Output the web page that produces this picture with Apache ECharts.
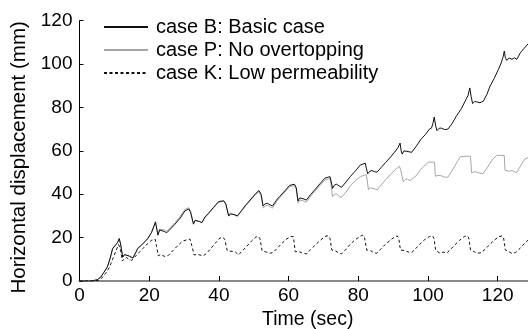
<!DOCTYPE html>
<html>
<head>
<meta charset="utf-8">
<script src="https://cdn.jsdelivr.net/npm/echarts@6/dist/echarts.min.js"></script>
<style>html,body{margin:0;padding:0;background:#fff}#c{width:528px;height:329px}</style>
</head>
<body>
<div id="c"></div>
<script>
// ---- data ----
const seriesNames = ['case B: Basic case', 'case P: No overtopping', 'case K: Low permeability'];
const xTicks = [0, 20, 40, 60, 80, 100, 120];
const yTicks = [0, 20, 40, 60, 80, 100, 120];

const caseB = [[0,0],[3,0],[4,0.2],[5.1,0.6],[6.1,1.8],[7,4],[8,6.5],[8.8,10.5],[9.5,15],[10.2,16.3],[10.9,17.7],[11.4,19.6],[11.8,17],[12.4,11],[12.9,12.2],[13.3,12.6],[14.3,11.5],[15.3,10.6],[16.1,13],[16.7,15],[17.8,16.6],[18.8,18.2],[19.6,19.6],[20.7,22.5],[21.8,27.3],[22.5,21.1],[23,23.5],[23.5,23.8],[24.4,22.8],[25,22.2],[26,23.8],[27.4,26.2],[28.9,29],[30.3,32.4],[31.4,33.2],[31.9,31.5],[32.7,26.2],[33.2,28],[33.7,28.1],[34.5,27.4],[35.1,26.9],[36,29.5],[37,31.2],[38.5,34],[39.9,36.6],[41.4,37],[42,35.5],[42.8,30],[43.3,31],[43.8,31.2],[44.6,30.5],[45.3,30],[46.5,32.5],[47.7,35],[49.2,37.8],[50.6,40.4],[51.5,41.7],[52.1,40],[52.7,34.6],[53.3,35.6],[54,35.8],[54.8,35],[55.4,34.6],[56.4,37],[57.4,38.9],[58.9,41.5],[60.3,44.1],[61.7,44.6],[62.2,43],[62.7,36.9],[63.2,38.3],[63.6,38.6],[64.4,37.8],[65.1,37.3],[66.3,39.8],[67.5,42],[69,44.8],[70.4,47.4],[71.9,48.1],[72.2,46],[72.6,42.7],[73.2,44.3],[73.8,44.6],[74.5,43.8],[75.2,43.2],[76.5,45.7],[77.7,48.1],[79.2,50.8],[80.6,53.5],[82,54.3],[82.3,52],[82.7,49.4],[83.3,50.6],[83.9,50.9],[84.7,50.4],[85.4,50.2],[86.6,52.4],[87.8,54.6],[89.3,57.2],[90.7,60],[91.4,61.5],[92,63.6],[92.3,60],[92.6,58.5],[93.1,60],[93.6,60.2],[94.5,59.6],[95.3,59.3],[96.7,62.3],[98,65.4],[99.3,67.6],[100.4,70],[101,70.5],[101.4,72.5],[101.8,75.6],[102.2,71.5],[102.6,69.3],[103.2,70.4],[103.8,70.5],[104.8,69.8],[105.7,70],[106.9,72.5],[108.1,75.9],[109.6,79.5],[111,84],[111.5,85.5],[112,89],[112.4,85],[112.8,81.8],[113.4,82.8],[113.9,82.9],[114.9,82.2],[115.9,82.9],[116.9,86],[117.8,89.8],[119,93.4],[120.2,97.5],[121,100.5],[121.5,103],[121.9,106],[122.2,103],[122.6,101.7],[123.3,102.8],[124.1,102.2],[124.8,102.9],[125.5,102.2],[126.5,105.2],[127.6,107.3],[128.7,109.3]];

const caseP = [[0,0],[3,0],[4,0.2],[5.1,0.6],[6.1,1.8],[7,4],[8,6.5],[8.8,10.5],[9.5,14.8],[10.2,16.2],[10.9,17.6],[11.4,19.3],[11.8,16.8],[12.4,11],[12.9,12.1],[13.3,12.5],[14.3,11.4],[15.3,10.5],[16.1,12.9],[16.7,14.9],[17.8,16.5],[18.8,18.1],[19.6,19.5],[20.7,22.4],[21.8,26.8],[22.5,21.8],[23,23.9],[23.5,24.3],[24.4,23.5],[25,22.9],[26,24.5],[27.4,27],[28.9,29.8],[30.3,33.1],[31.4,33.8],[31.9,32],[32.7,26.5],[33.2,27.9],[33.7,28],[34.5,27.3],[35.1,26.8],[36,29.3],[37,31],[38.5,33.8],[39.9,36.3],[41.4,36.7],[42,35.2],[42.8,29.9],[43.3,30.8],[43.8,31],[44.6,30.3],[45.3,29.8],[46.5,32.2],[47.7,34.6],[49.2,37.4],[50.6,40],[51.5,41.1],[52.1,39.5],[52.7,33.6],[53.3,34.6],[54,34.9],[54.8,34],[55.4,33.6],[56.4,36.2],[57.4,38.2],[58.9,40.9],[60.3,43.5],[61.7,44],[62.2,42.3],[62.7,35.9],[63.2,37.3],[63.6,37.6],[64.4,36.8],[65.1,36.3],[66.3,38.9],[67.5,41.2],[69,44],[70.4,46.5],[71.9,47.2],[72.2,44.5],[72.6,38.9],[73.2,40],[73.8,40.1],[74.5,39],[75.2,38.6],[76.5,41],[77.7,43.8],[79.2,46.3],[80.6,48.1],[82.3,49.1],[82.6,46],[82.9,42.1],[83.5,43],[84,43.2],[84.7,42.5],[85.4,42],[86.6,44.3],[87.8,46.6],[89.3,49.2],[90.7,51.5],[91.8,52.9],[92.2,51],[92.9,45.7],[93.5,46.8],[94.1,47],[94.8,46.2],[95.3,46],[96.6,48.5],[97.8,51.2],[99.2,53.5],[100.2,54.8],[101.9,54.8],[102.1,48.3],[102.8,48.7],[103.8,48.5],[104.8,47.9],[105.7,47.8],[106.8,50.5],[107.6,52.8],[108.6,55.5],[109.3,57.3],[111,57.5],[112.2,57.5],[112.5,49.9],[113.2,50.4],[113.9,50.2],[114.9,49.7],[115.7,49.4],[116.7,51.5],[117.6,53.8],[118.6,56.2],[119.7,57.9],[120.8,57.9],[121.9,57.8],[122.1,51],[123.2,50.6],[124.2,50.9],[125.4,49.9],[126.2,52],[127,54.3],[127.8,56.3],[128.7,56.8]];

const caseK = [[0,0],[4,0],[5.5,0.3],[6.5,1.5],[7.5,3.5],[8.5,6],[9.5,10],[10.5,14],[11.2,16.8],[11.7,15],[12.3,9.2],[12.8,10.2],[13.5,10.8],[14.2,10],[15,9.5],[15.8,11],[17,13],[18.2,15],[19.4,17],[20.6,18.7],[21.7,19.3],[22.1,16],[22.6,11.6],[23.3,12.2],[24.5,11.3],[25.5,11.8],[26.8,14],[28,16],[29.5,18.3],[30.8,19],[31.7,19.3],[32.2,16.5],[32.9,12],[33.8,12.3],[35.5,11.6],[36.5,12.8],[37.8,15.2],[39,17.5],[40.3,19.8],[41.2,20.2],[41.7,19],[42.4,14],[43.8,13.6],[44.7,13.4],[45.6,12],[46.8,14],[48,16],[49.3,18.3],[50.6,20.3],[51.4,20.5],[51.8,19.5],[52.4,13.9],[53.3,13.5],[54.7,12.8],[55.6,13.2],[56.8,15.2],[58,17.2],[59.3,19.2],[60.6,20.5],[61.4,20.4],[61.9,13.5],[63,13.6],[64,12.8],[65.2,12.5],[66.3,14.5],[67.6,16.5],[69,18.6],[70.4,20.5],[71.3,20.9],[71.9,19.5],[72.4,14.3],[73.5,13.8],[74.3,13],[75.2,12.5],[76.3,14.3],[77.6,16.8],[79,18.9],[80.5,20.5],[81.3,21.2],[81.8,20],[82.4,14.3],[83.6,14],[84.4,13],[85.3,12.8],[86.4,14.6],[87.7,16.8],[89,18.6],[90.3,20.2],[91.2,20.8],[91.6,19.8],[92.1,14.3],[93.4,14],[94.3,13.4],[95.3,13.1],[96.4,14.8],[97.7,17],[99,19],[100.4,20.5],[101.3,20.8],[101.7,19.8],[102.2,14.2],[103.4,12.8],[104.4,13.3],[105.4,12.9],[106.5,14.6],[107.8,16.8],[109.1,18.8],[110.4,20.5],[111.3,20.8],[111.7,19.8],[112.2,14.3],[113.3,13.5],[114,12.8],[115.2,13],[116.4,14.6],[117.7,16.8],[119,18.8],[120.4,20.5],[121.3,20.8],[121.7,19.8],[122.2,14.3],[123.2,13.5],[124,12.8],[125.2,13.2],[126.4,15],[127.6,17.2],[128.7,18.8]];

const FONT = "'Liberation Sans', Arial, Helvetica, sans-serif";
const chart = echarts.init(document.getElementById('c'), null, {renderer: 'canvas'});

const mk = (name, data, color, type) => ({
  name, type: 'line', data, symbol: 'none', showSymbol: false,
  lineStyle: {color, width: 1, type}, itemStyle: {color},
  animation: false, silent: true, z: name === seriesNames[1] ? 2 : 3
});

chart.setOption({
  animation: false,
  backgroundColor: '#ffffff',
  grid: {left: 79.5, right: 0, top: 20.7, bottom: 48, containLabel: false, outerBoundsMode: 'none'},
  legend: {
    orient: 'vertical', left: 98, top: 12, padding: 5,
    itemWidth: 44, itemHeight: 14, itemGap: 3,
    itemStyle: {opacity: 0},
    textStyle: {fontFamily: FONT, fontSize: 20, lineHeight: 20, color: '#000', padding: [0, 0, 0, 3]},
    data: seriesNames
  },
  xAxis: {
    type: 'value', min: 0, max: 128.7, interval: 20,
    name: 'Time (sec)', nameLocation: 'middle', nameGap: 29,
    nameTextStyle: {fontFamily: FONT, fontSize: 19.5, color: '#000', padding: [0, 0, 0, 8]},
    axisLine: {show: true, onZero: false, lineStyle: {color: '#8a8a8a', width: 2}},
    axisTick: {show: true, inside: true, length: 5, lineStyle: {color: '#000', width: 1}, customValues: xTicks},
    axisLabel: {fontFamily: FONT, fontSize: 19, color: '#000', margin: 5, customValues: xTicks},
    splitLine: {show: false}
  },
  yAxis: {
    type: 'value', min: 0, max: 120, interval: 20,
    name: 'Horizontal displacement (mm)', nameLocation: 'middle', nameGap: 47,
    nameTextStyle: {fontFamily: FONT, fontSize: 20.5, color: '#000', padding: [0, 13, 0, 0]},
    axisLine: {show: true, onZero: false, lineStyle: {color: '#000', width: 1}},
    axisTick: {show: true, inside: true, length: 4, lineStyle: {color: '#000', width: 1}, customValues: yTicks},
    axisLabel: {fontFamily: FONT, fontSize: 19, color: '#000', margin: 7, customValues: yTicks},
    splitLine: {show: false}
  },
  series: [
    mk(seriesNames[0], caseB, '#111111', 'solid'),
    mk(seriesNames[1], caseP, '#a6a6a6', 'solid'),
    mk(seriesNames[2], caseK, '#111111', [3, 2.5])
  ]
});
</script>
</body>
</html>
